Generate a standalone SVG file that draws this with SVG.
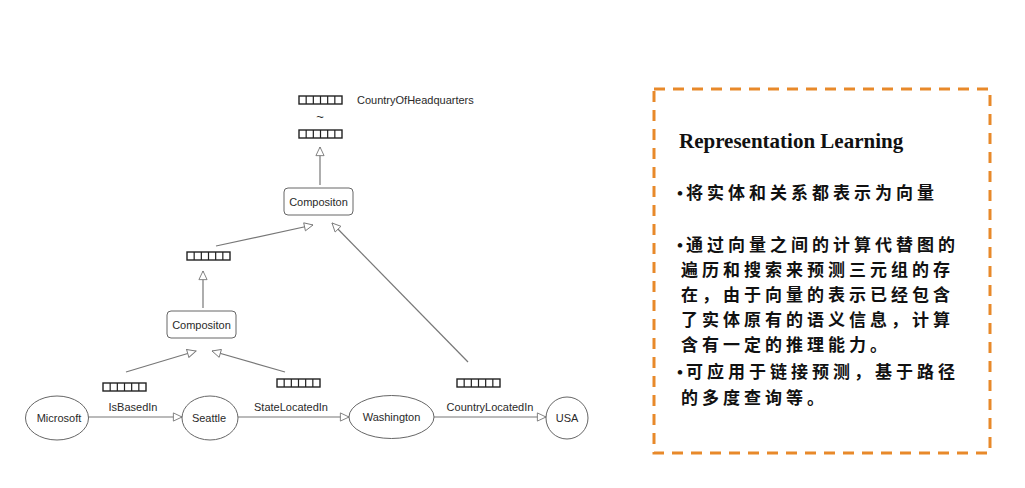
<svg xmlns="http://www.w3.org/2000/svg" width="1025" height="488" viewBox="0 0 1025 488">
<style>
.lbl{font-family:"Liberation Sans",Arial,sans-serif;font-size:11px;fill:#2a2a2a}
.cen{text-anchor:middle}
.shape{fill:#fff;stroke:#666;stroke-width:1}
.edge{fill:none;stroke:#777;stroke-width:1.2}
.cjk{font-family:"Noto Sans CJK SC","Noto Sans CJK JP",sans-serif;font-size:17px;font-weight:bold;letter-spacing:4px;fill:#111}
.bul{font-family:"Liberation Serif",serif;font-size:17px;font-weight:bold;fill:#111}
</style>
<defs>
<marker id="arr" markerUnits="userSpaceOnUse" markerWidth="11" markerHeight="10" refX="9.5" refY="4.5" orient="auto" viewBox="-1 -1 11 11">
<path d="M0,0 L9.5,4.5 L0,9 Z" fill="#fff" stroke="#777" stroke-width="1"/>
</marker>
<g id="vec">
<rect x="0" y="0" width="43" height="8" fill="#fff" stroke="#222" stroke-width="1.4"/>
<path d="M7.17,0V8M14.33,0V8M21.5,0V8M28.67,0V8M35.83,0V8" stroke="#222" stroke-width="1.2"/>
</g>
</defs>
<rect width="1025" height="488" fill="#fff"/>

<g id="connectors">
<path class="edge" d="M88,417 L182,417" marker-end="url(#arr)"/>
<path class="edge" d="M238,417 L349,417" marker-end="url(#arr)"/>
<path class="edge" d="M434,417 L546,417" marker-end="url(#arr)"/>
<path class="edge" d="M126,372 L196,351" marker-end="url(#arr)"/>
<path class="edge" d="M285,372 L212,351" marker-end="url(#arr)"/>
<path class="edge" d="M203,308 L203,271" marker-end="url(#arr)"/>
<path class="edge" d="M216,246 L313,225" marker-end="url(#arr)"/>
<path class="edge" d="M468,362 L332,223" marker-end="url(#arr)"/>
<path class="edge" d="M320,185 L320,147" marker-end="url(#arr)"/>
</g>

<g id="vec-top"><use href="#vec" x="299" y="96"/></g>
<g id="label-top"><text class="lbl" x="357" y="104">CountryOfHeadquarters</text></g>
<g id="tilde"><text class="lbl cen" x="320" y="121" style="font-size:13px">~</text></g>
<g id="vec-top2"><use href="#vec" x="299" y="130"/></g>

<g id="comp1">
<rect class="shape" x="284" y="188" width="69" height="27" rx="4"/>
<text class="lbl cen" x="318.5" y="205.5">Compositon</text>
</g>
<g id="vec-mid"><use href="#vec" x="187" y="252"/></g>
<g id="comp2">
<rect class="shape" x="167" y="311" width="69" height="27" rx="4"/>
<text class="lbl cen" x="201.5" y="328.5">Compositon</text>
</g>

<g id="rel-isbasedin">
<use href="#vec" x="103" y="383"/>
<text class="lbl cen" x="133" y="411">IsBasedIn</text>
</g>
<g id="rel-statelocatedin">
<use href="#vec" x="277" y="379"/>
<text class="lbl cen" x="291" y="411">StateLocatedIn</text>
</g>
<g id="rel-countrylocatedin">
<use href="#vec" x="457" y="379"/>
<text class="lbl cen" x="490" y="411">CountryLocatedIn</text>
</g>

<g id="microsoft">
<ellipse class="shape" cx="57" cy="418" rx="31.5" ry="22"/>
<text class="lbl cen" x="59" y="422">Microsoft</text>
</g>
<g id="seattle">
<ellipse class="shape" cx="210" cy="418" rx="28" ry="22"/>
<text class="lbl cen" x="209" y="422">Seattle</text>
</g>
<g id="washington">
<ellipse class="shape" cx="391.5" cy="417" rx="42.5" ry="21.5"/>
<text class="lbl cen" x="391.5" y="421">Washington</text>
</g>
<g id="usa">
<circle class="shape" cx="567" cy="418" r="21"/>
<text class="lbl cen" x="567" y="422">USA</text>
</g>

<g id="panel">
<rect x="654" y="89" width="336" height="364" fill="none" stroke="#E8892A" stroke-width="3" stroke-dasharray="11 8"/>
<text x="679" y="148" style="font-family:'Liberation Serif','Times New Roman',serif;font-size:21px;font-weight:bold;fill:#111">Representation Learning</text>
<text class="bul" x="677" y="199">•</text>
<text class="cjk" x="686" y="199">将实体和关系都表示为向量</text>
<text class="bul" x="677" y="251">•</text>
<text class="cjk" x="686" y="251">通过向量之间的计算代替图的</text>
<text class="cjk" x="681" y="276">遍历和搜索来预测三元组的存</text>
<text class="cjk" x="681" y="301">在，由于向量的表示已经包含</text>
<text class="cjk" x="681" y="326">了实体原有的语义信息，计算</text>
<text class="cjk" x="681" y="351">含有一定的推理能力。</text>
<text class="bul" x="677" y="378">•</text>
<text class="cjk" x="686" y="378">可应用于链接预测，基于路径</text>
<text class="cjk" x="681" y="404">的多度查询等。</text>
</g>
</svg>
